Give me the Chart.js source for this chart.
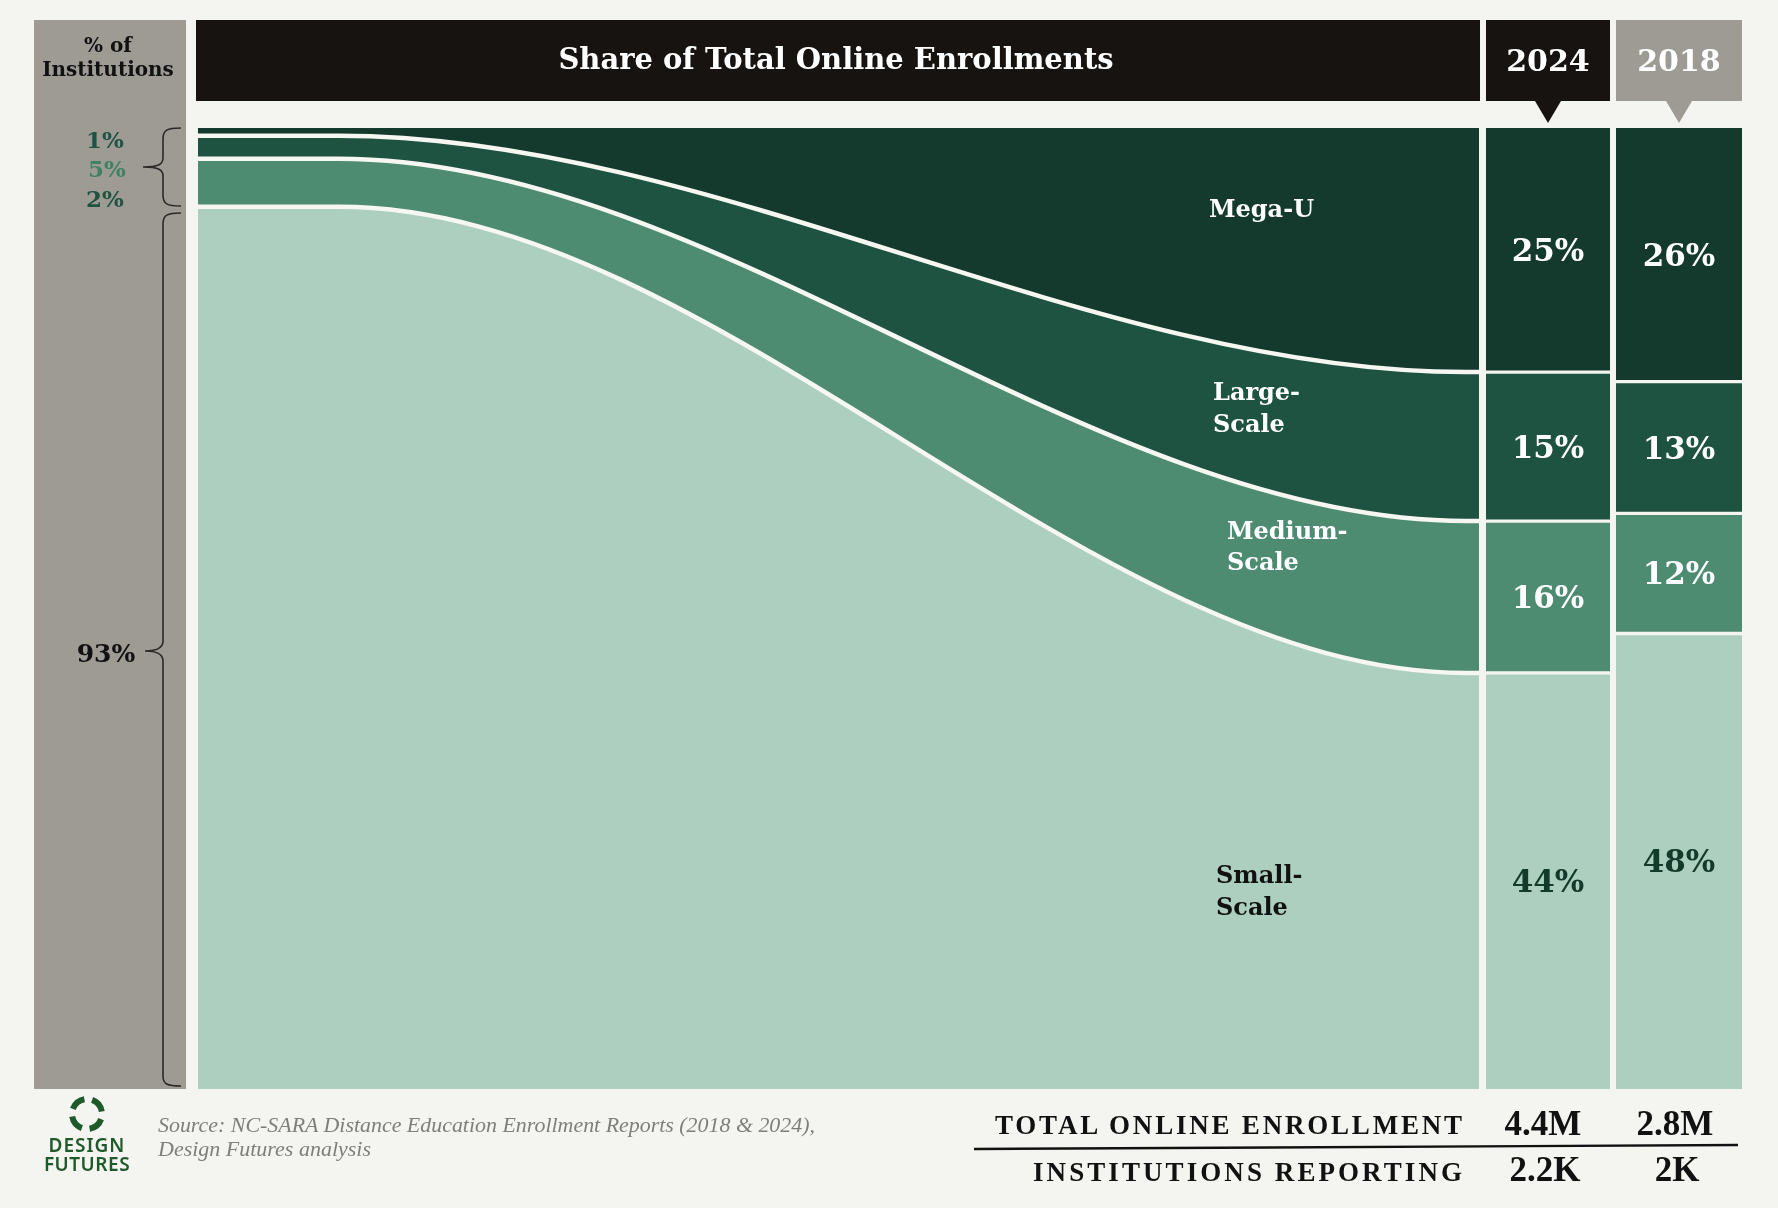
<!DOCTYPE html>
<html><head><meta charset="utf-8">
<script src="https://cdn.jsdelivr.net/npm/chart.js@4.4.1/dist/chart.umd.min.js"></script>
<style>
html,body{margin:0;padding:0;background:#f4f5f0;width:1778px;height:1208px;overflow:hidden;}
.box{position:absolute;}
#overlay{position:absolute;left:0;top:0;pointer-events:none;}
</style></head><body>
<div class="box" style="left:34px;top:20px;width:152px;height:1069px;background:#9e9b95"></div>
<div class="box" style="left:196px;top:20px;width:1284px;height:81px;background:#171310"></div>
<div class="box" style="left:1486px;top:20px;width:124px;height:81px;background:#171310"></div>
<div class="box" style="left:1616px;top:20px;width:126px;height:81px;background:#9e9b95"></div>
<div class="box" style="left:198px;top:128px;width:1281px;height:961px"><canvas id="flow"></canvas></div>
<div class="box" style="left:1486px;top:128px;width:124px;height:961px"><canvas id="bar2024"></canvas></div>
<div class="box" style="left:1616px;top:128px;width:126px;height:961px"><canvas id="bar2018"></canvas></div>
<svg id="overlay" width="1778" height="1208" xmlns="http://www.w3.org/2000/svg"></svg>
<script>
// ---------- DATA ----------
const categories = ['Mega-U', 'Large-Scale', 'Medium-Scale', 'Small-Scale'];   // top to bottom
const instShare = [0.8, 2.4, 5.0, 91.8];          // % of institutions (left edge of flow)
const instLabels = ['1%', '5%', '2%', '93%'];     // labels as printed at left
const years = ['2024', '2018'];
const share2024 = [25.4, 15.5, 15.8, 43.3];       // share of total online enrollments 2024
const share2018 = [26.4, 13.7, 12.5, 47.4];       // share of total online enrollments 2018
const labels2024 = ['25%', '15%', '16%', '44%'];
const labels2018 = ['26%', '13%', '12%', '48%'];
const totalEnrollment = ['4.4M', '2.8M'];
const institutionsReporting = ['2.2K', '2K'];

// ---------- STYLE ----------
const BG = '#f4f5f0';
const LINE = '#f6f7f2';
const colors = ['#133a2d', '#1e5241', '#4e8c71', '#adcfbf'];
const CURVE_START = 0.11, CURVE_END = 0.99;
const stackOrder = [3, 2, 1, 0]; // bottom first
const SERIF = '"DejaVu Serif", Georgia, serif';

Chart.defaults.animation = false;

// ---------- FLOW CHART ----------
new Chart(document.getElementById('flow'), {
  type: 'line',
  data: {
    datasets: stackOrder.map((i, k) => ({
      label: categories[i],
      data: [
        {x: 0, y: instShare[i]},
        {x: CURVE_START, y: instShare[i]},
        {x: CURVE_END, y: share2024[i]},
        {x: 1, y: share2024[i]}
      ],
      backgroundColor: colors[i],
      borderColor: i === 0 ? 'rgba(0,0,0,0)' : LINE,
      borderWidth: i === 0 ? 0 : 4.5,
      fill: k === 0 ? 'origin' : '-1',
      pointRadius: 0,
      pointHoverRadius: 0,
      cubicInterpolationMode: 'monotone'
    }))
  },
  options: {
    responsive: true, maintainAspectRatio: false,
    layout: {padding: 0},
    events: [],
    plugins: {legend: {display: false}, tooltip: {enabled: false}},
    scales: {
      x: {type: 'linear', min: 0, max: 1, display: false},
      y: {stacked: true, min: 0, max: 100, display: false}
    }
  }
});

// ---------- BARS ----------
const pctPlugin = {
  id: 'pct',
  afterDatasetsDraw(chart) {
    const ctx = chart.ctx;
    chart.data.datasets.forEach((ds, di) => {
      const el = chart.getDatasetMeta(di).data[0];
      const p = el.getProps(['x', 'y', 'base'], true);
      ctx.save();
      ctx.font = 'bold 31px ' + SERIF;
      ctx.fillStyle = ds.labelColor;
      ctx.textAlign = 'center';
      ctx.textBaseline = 'alphabetic';
      ctx.fillText(ds.pctLabel, p.x, (p.y + p.base) / 2 + 11);
      ctx.restore();
    });
  }
};

function barChart(id, year, values, labels) {
  new Chart(document.getElementById(id), {
    type: 'bar',
    data: {
      labels: [year],
      datasets: stackOrder.map(i => ({
        label: categories[i],
        data: [values[i]],
        backgroundColor: colors[i],
        borderColor: BG,
        borderSkipped: false,
        borderWidth: {top: i === 0 ? 0 : 2, bottom: i === 3 ? 0 : 2, left: 0, right: 0},
        barPercentage: 1, categoryPercentage: 1,
        pctLabel: labels[i],
        labelColor: i === 3 ? '#143a2c' : '#ffffff'
      }))
    },
    options: {
      responsive: true, maintainAspectRatio: false,
      layout: {padding: 0},
      events: [],
      plugins: {legend: {display: false}, tooltip: {enabled: false}},
      scales: {
        x: {stacked: true, display: false},
        y: {stacked: true, min: 0, max: 100, display: false}
      }
    },
    plugins: [pctPlugin]
  });
}
barChart('bar2024', years[0], share2024, labels2024);
barChart('bar2018', years[1], share2018, labels2018);

// ---------- OVERLAY TEXT & DECORATION ----------
const svg = document.getElementById('overlay');
const NS = 'http://www.w3.org/2000/svg';
function el(tag, attrs, text) {
  const e = document.createElementNS(NS, tag);
  for (const k in attrs) e.setAttribute(k, attrs[k]);
  if (text !== undefined) e.textContent = text;
  svg.appendChild(e);
  return e;
}
function txt(x, y, s, size, fill, anchor, extra) {
  return el('text', Object.assign({x, y, 'font-family': SERIF, 'font-weight': 'bold',
    'font-size': size, fill, 'text-anchor': anchor || 'start'}, extra || {}), s);
}

// header
txt(836, 69, 'Share of Total Online Enrollments', 29, '#ffffff', 'middle');
txt(1548, 71, years[0], 30, '#ffffff', 'middle');
txt(1679, 71, years[1], 30, '#ffffff', 'middle');
el('path', {d: 'M1535,101 L1561,101 L1548,123 Z', fill: '#171310'});
el('path', {d: 'M1666,101 L1692,101 L1679,123 Z', fill: '#9e9b95'});

// left panel
txt(108, 52, '% of', 20, '#111', 'middle');
txt(108, 76, 'Institutions', 20, '#111', 'middle');
txt(105, 148, instLabels[0], 23, '#1e5241', 'middle');
txt(107, 177, instLabels[1], 23, '#3f8262', 'middle');
txt(105, 207, instLabels[2], 23, '#1e5241', 'middle');
txt(106, 662, instLabels[3], 25, '#111', 'middle');
const braceStyle = {fill: 'none', stroke: '#2b2a28', 'stroke-width': 1.6};
el('path', Object.assign({d: 'M181,128 C167,128 163,130 163,139 L163,158 C163,164 159,167 143,167 C159,167 163,170 163,176 L163,195 C163,204 167,206 181,206'}, braceStyle));
el('path', Object.assign({d: 'M181,213 C167,213 163,215 163,224 L163,641 C163,647 159,651 145,651 C159,651 163,655 163,661 L163,1076 C163,1084 167,1086 181,1086'}, braceStyle));

// flow labels
txt(1209, 217, 'Mega-U', 24, '#ffffff');
txt(1213, 400, 'Large-', 24, '#ffffff');
txt(1213, 432, 'Scale', 24, '#ffffff');
txt(1227, 539, 'Medium-', 24, '#ffffff');
txt(1227, 570, 'Scale', 24, '#ffffff');
txt(1216, 883, 'Small-', 24, '#111111');
txt(1216, 915, 'Scale', 24, '#111111');

// bottom table
const TSER = '"Liberation Serif", "Times New Roman", serif';
el('text', {x: 1462, y: 1134, 'font-family': TSER, 'font-weight': 'bold', 'font-size': 27,
  'text-anchor': 'end', fill: '#111', textLength: 467, lengthAdjust: 'spacing'}, 'TOTAL ONLINE ENROLLMENT');
el('text', {x: 1462, y: 1181, 'font-family': TSER, 'font-weight': 'bold', 'font-size': 27,
  'text-anchor': 'end', fill: '#111', textLength: 429, lengthAdjust: 'spacing'}, 'INSTITUTIONS REPORTING');
el('text', {x: 1543, y: 1135, 'font-family': TSER, 'font-weight': 'bold', 'font-size': 35,
  'text-anchor': 'middle', fill: '#111'}, totalEnrollment[0]);
el('text', {x: 1675, y: 1135, 'font-family': TSER, 'font-weight': 'bold', 'font-size': 35,
  'text-anchor': 'middle', fill: '#111'}, totalEnrollment[1]);
el('text', {x: 1545, y: 1181, 'font-family': TSER, 'font-weight': 'bold', 'font-size': 35,
  'text-anchor': 'middle', fill: '#111'}, institutionsReporting[0]);
el('text', {x: 1677, y: 1181, 'font-family': TSER, 'font-weight': 'bold', 'font-size': 35,
  'text-anchor': 'middle', fill: '#111'}, institutionsReporting[1]);
el('line', {x1: 974, y1: 1149, x2: 1738, y2: 1145, stroke: '#111', 'stroke-width': 2.4});

// source
el('text', {x: 158, y: 1132, 'font-family': TSER, 'font-style': 'italic', 'font-size': 22,
  fill: '#7e7e7b', textLength: 657, lengthAdjust: 'spacingAndGlyphs'},
  'Source: NC-SARA Distance Education Enrollment Reports (2018 & 2024),');
el('text', {x: 158, y: 1156, 'font-family': TSER, 'font-style': 'italic', 'font-size': 22,
  fill: '#7e7e7b', textLength: 213, lengthAdjust: 'spacingAndGlyphs'}, 'Design Futures analysis');

// logo
const lg = el('g', {transform: 'translate(87,1114)'});
for (let a = 0; a < 4; a++) {
  const p = document.createElementNS(NS, 'path');
  p.setAttribute('d', 'M0,-15 A15,15 0 0 1 13,-7.5');
  p.setAttribute('transform', 'rotate(' + (a * 90 + 20) + ')');
  p.setAttribute('fill', 'none');
  p.setAttribute('stroke', '#1f5a2b');
  p.setAttribute('stroke-width', 6);
  lg.appendChild(p);
}
el('text', {x: 87, y: 1152, 'font-family': '"Noto Sans", sans-serif', 'font-weight': 600, 'font-size': 19,
  'text-anchor': 'middle', fill: '#1f5a2b', 'letter-spacing': 1}, 'DESIGN');
el('text', {x: 87, y: 1171, 'font-family': '"Noto Sans", sans-serif', 'font-weight': 600, 'font-size': 19,
  'text-anchor': 'middle', fill: '#1f5a2b', 'letter-spacing': 0.5}, 'FUTURES');
</script>
</body></html>
